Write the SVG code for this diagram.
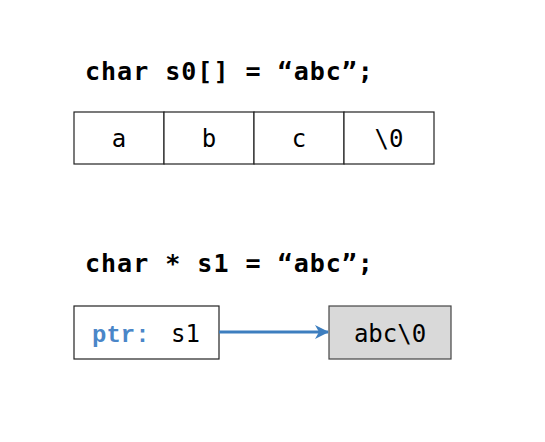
<svg xmlns="http://www.w3.org/2000/svg" width="545" height="442" viewBox="0 0 545 442">
<style>
.title{font-family:"DejaVu Sans Mono","Liberation Mono",monospace;font-weight:bold;font-size:25px;letter-spacing:1px;fill:#000}
.cell{fill:#fff;stroke:#222;stroke-width:1.2}
.txt{font-family:"DejaVu Sans Mono","Liberation Mono",monospace;font-size:24px;fill:#000;text-anchor:middle}
.ptr{font-family:"Liberation Mono","Courier New",monospace;font-weight:bold;font-size:24px;fill:#4a86c8}
</style>
<defs>
<marker id="ah" markerWidth="14" markerHeight="14" refX="13" refY="7" orient="auto" markerUnits="userSpaceOnUse" viewBox="0 0 14 14">
<path d="M0,0 L14,7 L0,14 L4,7 Z" fill="#3d7ebf"/>
</marker>
</defs>
<rect width="545" height="442" fill="#fff"/>
<text class="title" x="85" y="80">char s0[] = “abc”;</text>
<g id="arr">
<rect class="cell" x="74" y="112" width="90" height="52"/>
<rect class="cell" x="164" y="112" width="90" height="52"/>
<rect class="cell" x="254" y="112" width="90" height="52"/>
<rect class="cell" x="344" y="112" width="90" height="52"/>
<text class="txt" x="119" y="147">a</text>
<text class="txt" x="209" y="147">b</text>
<text class="txt" x="299" y="147">c</text>
<text class="txt" x="389" y="147">\0</text>
</g>
<text class="title" x="85" y="272">char * s1 = “abc”;</text>
<g id="ptrnode">
<rect class="cell" x="74" y="306" width="145" height="53"/>
<text x="92" y="342"><tspan class="ptr">ptr:</tspan><tspan class="txt" style="text-anchor:start" x="171">s1</tspan></text>
</g>
<g id="strnode">
<rect x="329" y="306" width="122" height="53" fill="#d9d9d9" stroke="#444" stroke-width="1.2"/>
<text class="txt" x="390" y="342">abc\0</text>
</g>
<g id="connectors">
<line x1="219" y1="332" x2="328" y2="332" stroke="#3d7ebf" stroke-width="3" marker-end="url(#ah)"/>
</g>
</svg>
